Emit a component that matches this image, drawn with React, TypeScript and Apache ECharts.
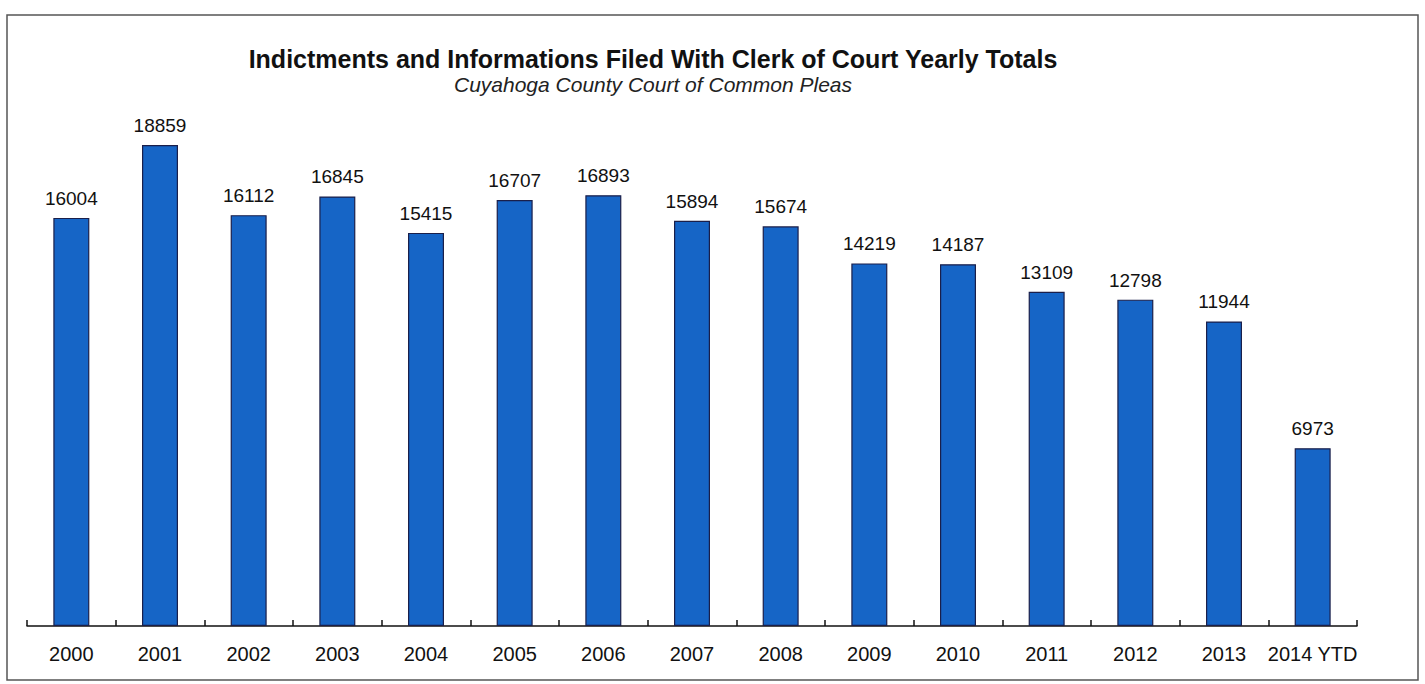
import React, { useEffect, useRef } from "react";
import * as echarts from "echarts";

const categories = ["2000", "2001", "2002", "2003", "2004", "2005", "2006", "2007", "2008", "2009", "2010", "2011", "2012", "2013", "2014 YTD"];
const totals = [16004, 18859, 16112, 16845, 15415, 16707, 16893, 15894, 15674, 14219, 14187, 13109, 12798, 11944, 6973];
const titleText = "Indictments and Informations Filed With Clerk of Court Yearly Totals";
const subtitleText = "Cuyahoga County Court of Common Pleas";

export default function App() {
  const ref = useRef<HTMLDivElement>(null);
  useEffect(() => {
    if (!ref.current) return;
    const chart = echarts.init(ref.current, null, { renderer: "svg" });
    chart.setOption({
      animation: false,
      backgroundColor: "#ffffff",
      textStyle: { fontFamily: "Liberation Sans, Arial, sans-serif" },
      title: {
        text: titleText,
        subtext: subtitleText,
        left: 648,
        top: 41,
        textAlign: "center",
        itemGap: 3,
        textStyle: { fontSize: 25, fontWeight: "bold", color: "#111", fontFamily: "Liberation Sans, Arial, sans-serif" },
        subtextStyle: { fontSize: 21, fontStyle: "italic", color: "#222", fontFamily: "Liberation Sans, Arial, sans-serif" },
      },
      graphic: [
        {
          type: "rect",
          shape: { x: 7, y: 15, width: 1411, height: 665 },
          style: { fill: "none", stroke: "#555", lineWidth: 1.5 },
          silent: true,
        },
      ],
      grid: { left: 27, right: 68, top: 116, bottom: 58 },
      xAxis: {
        type: "category",
        data: categories,
        boundaryGap: true,
        axisLine: { lineStyle: { color: "#111", width: 1.5 } },
        axisTick: { show: true, inside: true, length: 6, lineStyle: { color: "#111", width: 1.5 } },
        axisLabel: { color: "#111", fontSize: 20, margin: 18, interval: 0 },
      },
      yAxis: {
        type: "value",
        min: 0,
        max: 20000,
        show: false,
        splitLine: { show: false },
      },
      series: [
        {
          type: "bar",
          data: totals,
          barWidth: 36,
          itemStyle: { color: "#1665c6", borderColor: "#1a1f4a", borderWidth: 1.2 },
          label: { show: true, position: "top", distance: 10, fontSize: 19, color: "#111" },
        },
      ],
    });
    return () => chart.dispose();
  }, []);
  return <div ref={ref} style={{ position: "fixed", left: 0, top: 0, width: 1425, height: 684 }} />;
}
